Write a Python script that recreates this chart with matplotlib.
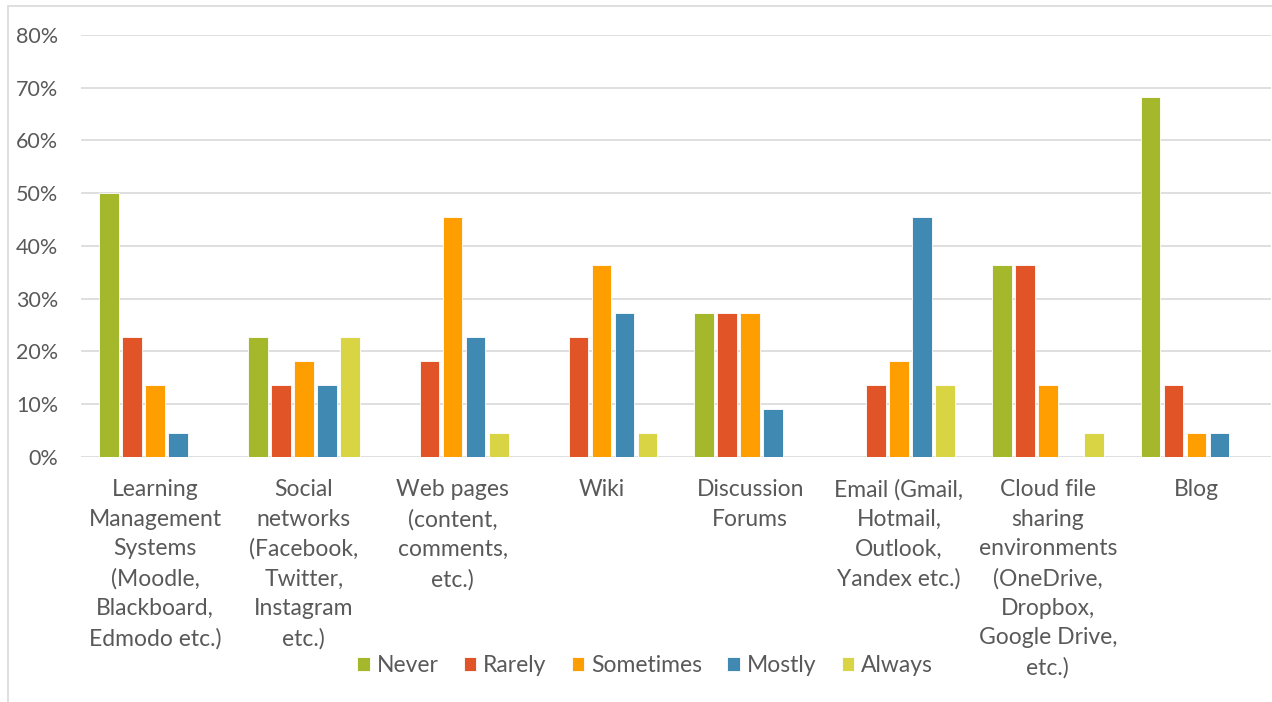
import numpy as np
import matplotlib.pyplot as plt
from matplotlib.patches import Rectangle
from matplotlib.ticker import FuncFormatter

# categorias y datos (porcentajes)
categorias = [
    "Learning\nManagement\nSystems\n(Moodle,\nBlackboard,\nEdmodo etc.)",
    "Social\nnetworks\n(Facebook,\nTwitter,\nInstagram\netc.)",
    "Web pages\n(content,\ncomments,\netc.)",
    "Wiki",
    "Discussion\nForums",
    "Email (Gmail,\nHotmail,\nOutlook,\nYandex etc.)",
    "Cloud file\nsharing\nenvironments\n(OneDrive,\nDropbox,\nGoogle Drive,\netc.)",
    "Blog",
]
series = ["Never", "Rarely", "Sometimes", "Mostly", "Always"]
never = [50.0, 22.7, 0, 0, 27.3, 0, 36.4, 68.2]
rarely = [22.7, 13.6, 18.2, 22.7, 27.3, 13.6, 36.4, 13.6]
sometimes = [13.6, 18.2, 45.5, 36.4, 27.3, 18.2, 13.6, 4.5]
mostly = [4.5, 13.6, 22.7, 27.3, 9.1, 45.5, 0, 4.5]
always = [0, 22.7, 4.5, 4.5, 0, 13.6, 4.5, 0]
colores = ["#A5B82B", "#E05428", "#FF9E00", "#3F89B2", "#D8D444"]

plt.rcParams['font.family'] = ['Lato', 'DejaVu Sans']
gris = "#595959"

W, H = 1272, 702
fig = plt.figure(figsize=(W / 100, H / 100), dpi=100)
ax = fig.add_axes([80.6 / W, (H - 457) / H, (1271 - 80.6) / W, (457 - 35) / H])

x = np.arange(len(categorias))
paso = 0.1546
for i, (nombre, vals) in enumerate(zip(series, [never, rarely, sometimes, mostly, always])):
    ax.bar(x + (i - 2) * paso, vals, width=paso * 0.86, color=colores[i],
           edgecolor="white", linewidth=0.6, label=nombre, zorder=3)

ax.set_xlim(-0.5, len(categorias) - 0.5)
ax.set_ylim(0, 80)
ax.set_yticks(np.arange(0, 81, 10))
ax.yaxis.set_major_formatter(FuncFormatter(lambda v, p: f"{int(v)}%"))
ax.grid(axis="y", color="#D9D9D9", linewidth=1.2, zorder=0)
for s in ax.spines.values():
    s.set_visible(False)
ax.tick_params(axis="y", length=0, labelsize=15.5, labelcolor=gris, pad=16)
ax.set_xticks(x)
ax.set_xticklabels(categorias, fontsize=16.5, color=gris, linespacing=1.5, va="top")
ax.tick_params(axis="x", length=0, pad=16)

leg = fig.legend(loc="center", bbox_to_anchor=(645 / W, (H - 666) / H), ncol=5,
                 frameon=False, fontsize=16.5, handlelength=0.55, handleheight=0.55,
                 handletextpad=0.3, columnspacing=1.1)
for t in leg.get_texts():
    t.set_color(gris)

# borde del grafico
fig.patches.append(Rectangle((8 / W, -0.01), 1.02, (H - 6) / H + 0.01, transform=fig.transFigure,
                             fill=False, edgecolor="#D9D9D9", linewidth=1.2))

fig.savefig("out.png", dpi=100)
plt.close()
